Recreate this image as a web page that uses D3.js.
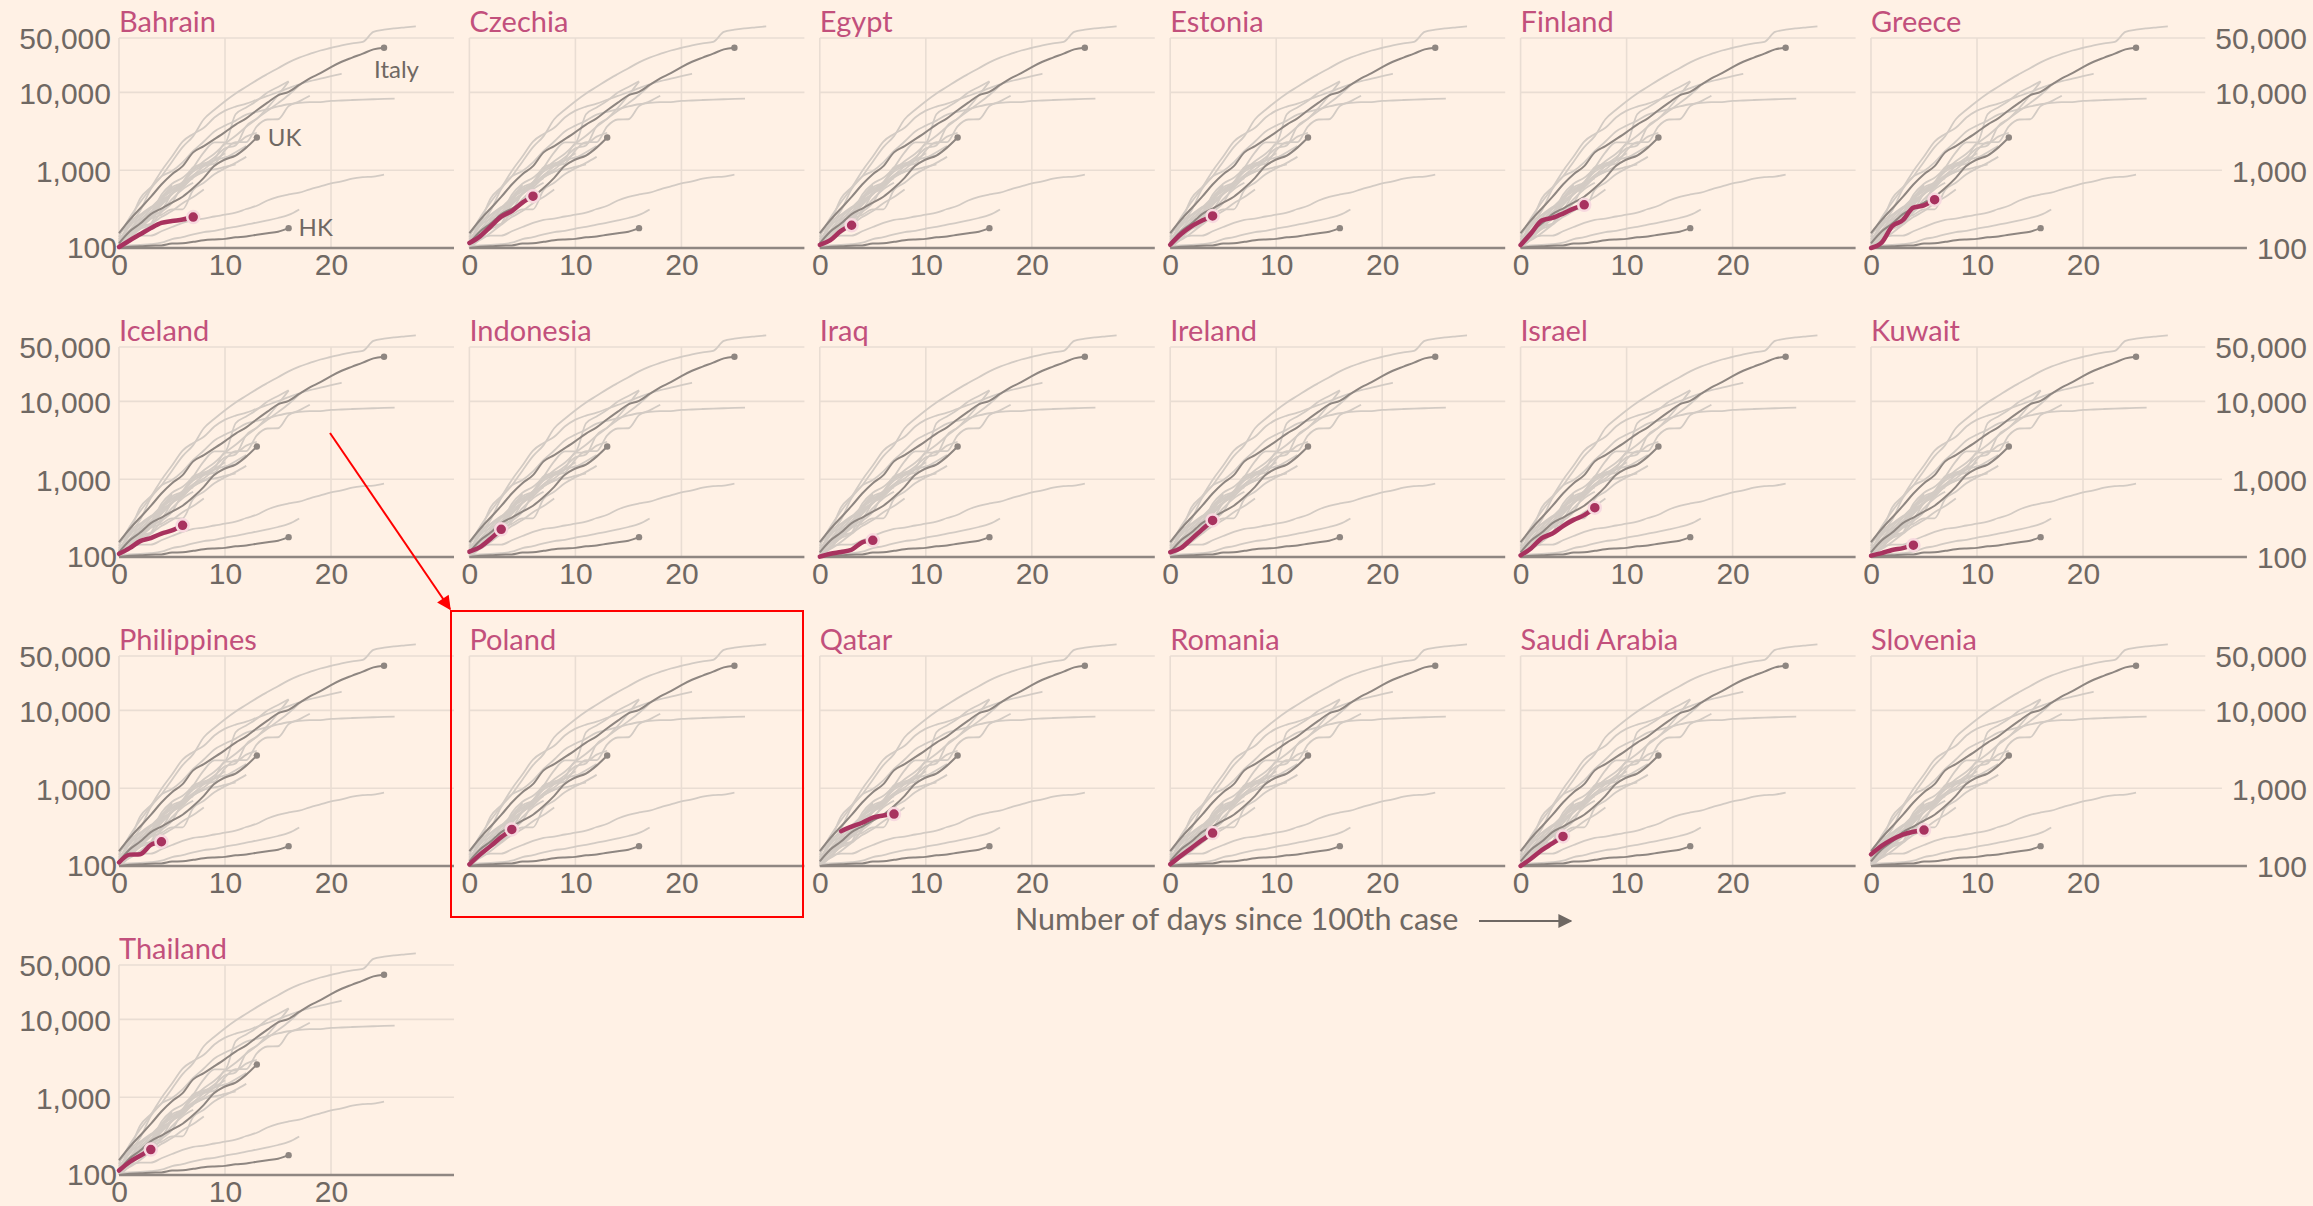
<!DOCTYPE html>
<meta charset="utf-8">
<style>
  body {
    margin: 0;
    background: #fff1e5;
  }

  svg {
    display: block;
    font-family: Lato, "Open Sans", sans-serif;
  }

  .ticklab text {
    fill: #6f6863;
    font-size: 30px;
  }

  .title {
    fill: #c2507c;
    font-size: 29px;
  }

  .lab {
    fill: #6f6863;
    font-size: 24px;
  }
</style>

<body>
<div id="chart"></div>

<script src="https://d3js.org/d3.v7.min.js"></script>
<script>
  // panels, in reading order
  var countries = ["Bahrain", "Czechia", "Egypt", "Estonia", "Finland", "Greece",
    "Iceland", "Indonesia", "Iraq", "Ireland", "Israel", "Kuwait",
    "Philippines", "Poland", "Qatar", "Romania", "Saudi Arabia", "Slovenia",
    "Thailand"];

  // highlighted country: cases by day since 100th case
  var bahrain = [103, 125, 150, 180, 210, 222, 232, 250];
  var czechia = [116, 141, 189, 253, 298, 383, 464];
  var egypt = [110, 126, 166, 196];
  var estonia = [110, 150, 190, 225, 258];
  var finland = [109, 155, 225, 244, 277, 321, 359];
  var greece = [100, 117, 190, 228, 331, 352, 418];
  var iceland = [110, 130, 160, 175, 200, 220, 255];
  var indonesia = [117, 134, 172, 227];
  var iraq = [101, 110, 116, 124, 154, 164];
  var ireland = [115, 130, 170, 225, 295];
  var israel = [105, 130, 175, 200, 250, 300, 345, 430];
  var kuwait = [104, 112, 123, 130, 142];
  var philippines = [111, 140, 142, 187, 205];
  var poland = [105, 140, 180, 235, 295];
  var qatar = [null, null, 280, 320, 360, 420, 445, 465];
  var romania = [105, 135, 170, 215, 265];
  var saudiArabia = [100, 125, 160, 195, 240];
  var slovenia = [141, 181, 219, 253, 275, 290];
  var thailand = [114, 147, 177, 212];

  // background countries (same in every panel)
  var china = [120, 200, 300, 571, 830, 1287, 1975, 2744, 4515, 5974, 7711, 9692, 11791, 14380, 17205,
    20438, 24324, 28018, 31161, 34546, 37198, 40171, 42638, 44653, 59804, 63851, 66492, 68500, 70548];
  var iran = [139, 245, 388, 593, 978, 1501, 2336, 2922, 3513, 4747, 5823, 6566, 7161, 8042, 9000,
    10075, 11364, 12729, 13938, 14991, 16169, 17361];
  var korea = [104, 204, 433, 602, 833, 977, 1261, 1766, 2337, 3150, 3736, 4335, 5186, 5621, 6088,
    6593, 7041, 7314, 7478, 7513, 7755, 7869, 7979, 8086, 8162, 8236, 8320];
  var japan = [105, 132, 144, 144, 164, 186, 210, 230, 239, 254, 268, 284, 317, 349, 408, 455, 488,
    514, 568, 619, 675, 716, 780, 814, 829, 878];
  var singapore = [106, 108, 110, 112, 117, 130, 138, 150, 160, 166, 178, 187, 200, 212, 226, 243, 266, 313];
  var us = [122, 153, 221, 319, 435, 541, 704, 994, 1301, 1630, 2183, 2770, 3613, 4596, 6344, 9197, 13779];
  var spain = [120, 165, 222, 259, 400, 500, 673, 1073, 1695, 2277, 2277, 5232, 6391, 7798, 9942, 11748, 13910];
  var germany = [130, 159, 196, 262, 482, 670, 799, 1040, 1176, 1457, 1908, 2078, 3675, 4585, 5795,
    7272, 9257, 12327];
  var france = [100, 130, 191, 204, 288, 380, 656, 957, 1134, 1217, 1794, 2293, 2293, 3661, 4480,
    4513, 6650, 7652, 9043];
  var switzerland = [114, 214, 268, 337, 374, 491, 652, 858, 1125, 1359, 2200, 2200, 2700, 3028];
  var netherlands = [128, 188, 265, 321, 382, 503, 614, 804, 959, 1135, 1413, 1705, 2051];
  var belgium = [109, 169, 200, 239, 267, 314, 314, 559, 689, 886, 1058, 1243, 1486];
  var norway = [113, 147, 176, 205, 400, 598, 702, 1090, 1221, 1333, 1463, 1550];
  var sweden = [137, 161, 203, 248, 355, 500, 599, 814, 961, 1022, 1103, 1190];
  var austria = [104, 131, 182, 246, 302, 504, 655, 860, 1018, 1332, 1646];
  var malaysia = [129, 149, 197, 238, 428, 566, 673, 790];
  var australia = [112, 127, 156, 199, 250, 298, 375, 452, 565];
  var canada = [108, 138, 176, 244, 304, 424, 569, 690];
  var portugal = [112, 169, 245, 331, 448, 642];
  var brazil = [151, 200, 234, 291, 428, 621];

  // labelled reference countries
  var italy = [155, 229, 322, 453, 655, 888, 1128, 1694, 2036, 2502, 3089, 3858, 4636, 5883, 7375,
    9172, 10149, 12462, 15113, 17660, 21157, 24747, 27980, 31506, 35713, 37500];
  var uk = [115, 163, 206, 273, 321, 382, 456, 590, 798, 1140, 1372, 1543, 1950, 2626];
  var hk = [100, 104, 105, 107, 108, 114, 115, 120, 126, 129, 131, 137, 141, 148, 155, 162, 180];

  var yTicks = [100, 1000, 10000, 50000];
  var yGrid = [1000, 10000, 50000];
  var xTicks = [0, 10, 20];

  var highlight = [bahrain, czechia, egypt, estonia, finland, greece,
    iceland, indonesia, iraq, ireland, israel, kuwait,
    philippines, poland, qatar, romania, saudiArabia, slovenia,
    thailand];
  var background = [china, iran, korea, japan, singapore, us, spain, germany, france, switzerland,
    netherlands, belgium, norway, sweden, austria, malaysia, australia, canada, portugal, brazil];
  var labelled = [
    { name: "Italy", values: italy, dx: -10, dy: 30 },
    { name: "UK", values: uk, dx: 11, dy: 8 },
    { name: "HK", values: hk, dx: 10, dy: 8 }
  ];

  var width = 2313, height = 1206;
  var cols = 6;
  var left0 = 119, colStep = 350.4;
  var top0 = 38, rowStep = 309;
  var plotW = 335, plotH = 210;
  var rightEdge = 2307;

  var x = d3.scaleLinear().domain([0, 31.6]).range([0, plotW]);
  var y = d3.scaleLog().domain([100, 50000]).range([plotH, 0]);

  var line = d3.line()
    .defined(function (d) { return d != null; })
    .x(function (d, i) { return x(i); })
    .y(function (d) { return y(d); })
    .curve(d3.curveMonotoneX);

  function lastIndex(v) { return v.length - 1; }

  var svg = d3.select("#chart")
    .append("svg")
    .attr("width", width)
    .attr("height", height);

  svg.append("rect").attr("width", width).attr("height", height).attr("fill", "#fff1e5");

  var fmt = d3.format(",");

  countries.forEach(function (name, k) {
    var col = k % cols, row = Math.floor(k / cols);
    var x0 = left0 + col * colStep, y0 = top0 + row * rowStep;
    var isLast = col == cols - 1;
    var g = svg.append("g").attr("transform", "translate(" + x0 + "," + y0 + ")");

    // right hand labels go on the last column: measure them first to know where the grid stops
    var ext = {};
    if (isLast) {
      var ry = svg.append("g")
        .attr("class", "ticklab")
        .attr("transform", "translate(" + rightEdge + "," + y0 + ")")
        .call(d3.axisLeft(y).tickValues(yTicks).tickSize(0).tickPadding(0).tickFormat(fmt));
      ry.select(".domain").remove();
      ry.selectAll("text").attr("dy", "0.36em").each(function (d) {
        ext[d] = rightEdge - x0 - this.getComputedTextLength() - 10;
      });
    }

    // grid
    g.selectAll(".hgrid")
      .data(yGrid)
      .join("line")
      .attr("x1", 0)
      .attr("x2", function (d) { return isLast ? ext[d] : plotW; })
      .attr("y1", function (d) { return y(d); })
      .attr("y2", function (d) { return y(d); })
      .attr("stroke", "#e9ddd3")
      .attr("stroke-width", 1.6);

    g.selectAll(".vgrid")
      .data(xTicks)
      .join("line")
      .attr("x1", function (d) { return x(d); })
      .attr("x2", function (d) { return x(d); })
      .attr("y1", y(50000))
      .attr("y2", y(100))
      .attr("stroke", "#e9ddd3")
      .attr("stroke-width", 1.6);

    // x axis
    var xa = g.append("g")
      .attr("class", "ticklab")
      .attr("transform", "translate(0," + plotH + ")")
      .call(d3.axisBottom(x).tickValues(xTicks).tickSize(0).tickPadding(6).tickSizeOuter(0));
    xa.select(".domain").remove();

    g.append("line")
      .attr("x1", 0)
      .attr("x2", isLast ? ext[100] : plotW)
      .attr("y1", y(100))
      .attr("y2", y(100))
      .attr("stroke", "#8f8782")
      .attr("stroke-width", 2.5);

    // left labels on the first column
    if (col == 0) {
      var ly = g.append("g")
        .attr("class", "ticklab")
        .call(d3.axisLeft(y).tickValues(yTicks).tickSize(0).tickPadding(8).tickFormat(fmt));
      ly.select(".domain").remove();
      ly.selectAll("text").attr("dy", "0.36em")
        .filter(function (d) { return d == 100; })
        .attr("x", -2).attr("dy", "0.3em");
    }

    // background lines
    g.selectAll(".bg")
      .data(background)
      .join("path")
      .attr("d", line)
      .attr("fill", "none")
      .attr("stroke", "#d3cbc4")
      .attr("stroke-width", 1.8);

    g.selectAll(".ref")
      .data(labelled)
      .join("path")
      .attr("d", function (d) { return line(d.values); })
      .attr("fill", "none")
      .attr("stroke", "#8e8681")
      .attr("stroke-width", 2);

    g.selectAll(".refdot")
      .data(labelled)
      .join("circle")
      .attr("cx", function (d) { return x(lastIndex(d.values)); })
      .attr("cy", function (d) { return y(d.values[lastIndex(d.values)]); })
      .attr("r", 3.2)
      .attr("fill", "#8e8681");

    if (k == 0) {
      g.selectAll(".reflab")
        .data(labelled)
        .join("text")
        .attr("class", "lab")
        .attr("x", function (d) { return x(lastIndex(d.values)) + d.dx; })
        .attr("y", function (d) { return y(d.values[lastIndex(d.values)]) + d.dy; })
        .text(function (d) { return d.name; });
    }

    // highlighted country
    var v = highlight[k];
    g.append("path")
      .attr("d", line(v))
      .attr("fill", "none")
      .attr("stroke", "#a8325f")
      .attr("stroke-width", 4.5)
      .attr("stroke-linecap", "round");

    g.append("circle")
      .attr("cx", x(lastIndex(v)))
      .attr("cy", y(v[lastIndex(v)]))
      .attr("r", 6)
      .attr("fill", "#a8325f")
      .attr("stroke", "#f7d9df")
      .attr("stroke-width", 2.5);

    g.append("text")
      .attr("class", "title")
      .attr("x", 0)
      .attr("y", -6)
      .text(name);
  });

  // axis title
  var defs = svg.append("defs");
  defs.append("marker")
    .attr("id", "ahead")
    .attr("viewBox", "0 0 10 10")
    .attr("refX", 9).attr("refY", 5)
    .attr("markerWidth", 7).attr("markerHeight", 7)
    .attr("markerUnits", "strokeWidth")
    .attr("orient", "auto")
    .append("path").attr("d", "M0,0L10,5L0,10Z").attr("fill", "#6f6863");

  defs.append("marker")
    .attr("id", "redhead")
    .attr("viewBox", "0 0 10 10")
    .attr("refX", 9).attr("refY", 5)
    .attr("markerWidth", 9).attr("markerHeight", 7)
    .attr("markerUnits", "strokeWidth")
    .attr("orient", "auto")
    .append("path").attr("d", "M0,0L10,5L0,10Z").attr("fill", "#ff0000");

  svg.append("text")
    .attr("x", 1015)
    .attr("y", 930)
    .attr("fill", "#6f6863")
    .attr("font-size", 30.5)
    .text("Number of days since 100th case");

  svg.append("line")
    .attr("x1", 1479).attr("x2", 1571)
    .attr("y1", 921).attr("y2", 921)
    .attr("stroke", "#6f6863")
    .attr("stroke-width", 2)
    .attr("marker-end", "url(#ahead)");

  // red annotation around Poland
  svg.append("rect")
    .attr("x", 451).attr("y", 611)
    .attr("width", 352).attr("height", 306)
    .attr("fill", "none")
    .attr("stroke", "#ff0000")
    .attr("stroke-width", 2);

  svg.append("line")
    .attr("x1", 330).attr("y1", 433)
    .attr("x2", 450).attr("y2", 609)
    .attr("stroke", "#ff0000")
    .attr("stroke-width", 2)
    .attr("marker-end", "url(#redhead)");
</script>
</body>
